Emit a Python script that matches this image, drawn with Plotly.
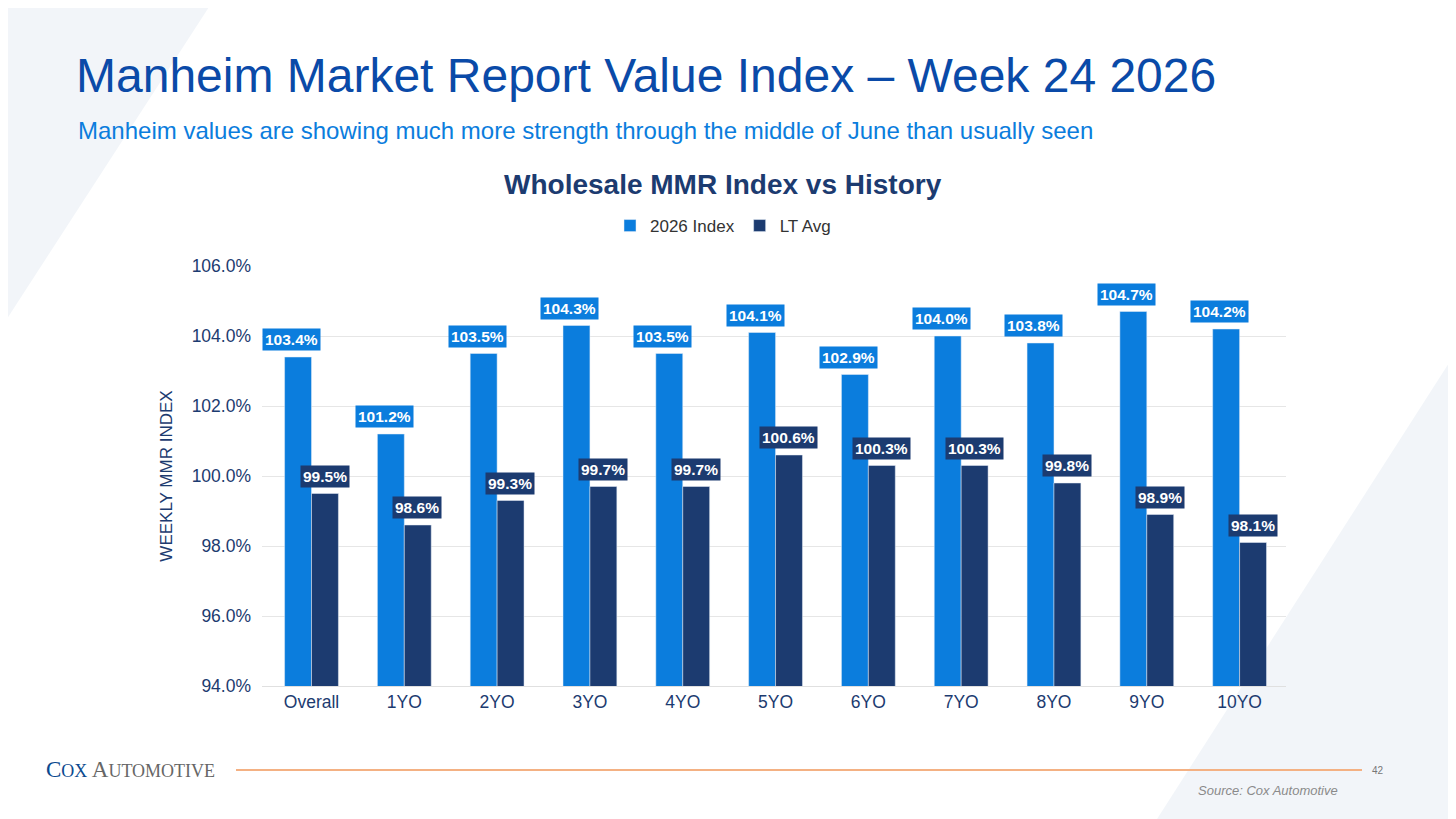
import plotly.graph_objects as go

categories = ['Overall', '1YO', '2YO', '3YO', '4YO', '5YO', '6YO', '7YO', '8YO', '9YO', '10YO']
index_2026 = [103.4, 101.2, 103.5, 104.3, 103.5, 104.1, 102.9, 104.0, 103.8, 104.7, 104.2]
lt_avg = [99.5, 98.6, 99.3, 99.7, 99.7, 100.6, 100.3, 100.3, 99.8, 98.9, 98.1]

BLUE = '#0b7ddd'
NAVY = '#1c3b70'


# screen pixel -> paper coords (plot area is 262..1286 x 266..686 on screen)
def px(x):
    return (x - 262) / 1024


def py(y):
    return (686 - y) / 420


fig = go.Figure()
fig.add_bar(x=categories, y=index_2026, name='2026 Index', marker_color=BLUE)
fig.add_bar(x=categories, y=lt_avg, name='LT Avg', marker_color=NAVY)

# value labels as boxed annotations
for c, v in zip(categories, index_2026):
    fig.add_annotation(x=c, y=v, text=f'<b>{v:.1f}%</b>', xshift=-20, yshift=6, yanchor='bottom',
                       showarrow=False, bgcolor=BLUE, font=dict(color='white', size=15.5, family='Arial'),
                       borderpad=2)
for c, v in zip(categories, lt_avg):
    fig.add_annotation(x=c, y=v, text=f'<b>{v:.1f}%</b>', xshift=13, yshift=6, yanchor='bottom',
                       showarrow=False, bgcolor=NAVY, font=dict(color='white', size=15.5, family='Arial'),
                       borderpad=2)

# slide text
fig.add_annotation(text='Manheim Market Report Value Index – Week 24 2026', xref='paper', yref='paper',
                   x=px(74), y=py(75), yanchor='middle', xanchor='left',
                   showarrow=False, font=dict(size=48, color='#0a4aa8', family='Arial'))
fig.add_annotation(text='Manheim values are showing much more strength through the middle of June than usually seen',
                   xref='paper', yref='paper', x=px(76), y=py(130), xanchor='left',
                   yanchor='middle', showarrow=False, font=dict(size=24, color='#0b7ddd', family='Arial'))
fig.add_annotation(text='<b>Wholesale MMR Index vs History</b>', xref='paper', yref='paper',
                   x=px(723), y=py(184), xanchor='center', yanchor='middle',
                   showarrow=False, font=dict(size=28, color='#1c3b70', family='Arial'))
fig.add_annotation(text='<span style="color:#0b4a8f">C<span style="font-size:18px">OX</span></span> '
                        'A<span style="font-size:18px">UTOMOTIVE</span>',
                   xref='paper', yref='paper', x=px(44), y=py(769), xanchor='left', yanchor='middle',
                   showarrow=False, font=dict(size=23, color='#666666', family='Liberation Serif'))
fig.add_annotation(text='42', xref='paper', yref='paper', x=px(1378), y=py(770),
                   xanchor='center', yanchor='middle', showarrow=False, font=dict(size=10, color='#777777'))
fig.add_annotation(text='<i>Source: Cox Automotive</i>', xref='paper', yref='paper', x=px(1340),
                   y=py(790), xanchor='right', yanchor='middle', showarrow=False,
                   font=dict(size=13, color='#8a8a8a', family='Arial'))

fig.add_shape(type='line', xref='paper', yref='paper', x0=px(236), x1=px(1362),
              y0=py(770), y1=py(770), line=dict(color='#f4b183', width=2))
# background decorative triangles
fig.add_shape(type='path', xref='paper', yref='paper', layer='below',
              path=f'M {px(-10)},{py(-10)} L {px(220)},{py(-10)} L {px(-10)},{py(345)} Z',
              fillcolor='#f2f5f9', line_width=0)
fig.add_shape(type='path', xref='paper', yref='paper', layer='below',
              path=f'M {px(1470)},{py(330)} L {px(1470)},{py(830)} L {px(1150)},{py(830)} Z',
              fillcolor='#f2f5f9', line_width=0)

fig.update_layout(
    width=1456, height=819, margin=dict(l=254, r=178, t=258, b=141),
    paper_bgcolor='white', plot_bgcolor='rgba(0,0,0,0)',
    barmode='group', bargap=0.42, bargroupgap=0,
    font=dict(family='Arial', color='#1c3b70'),
    legend=dict(orientation='h', x=px(723), xanchor='center', y=(819 - 218) / 819,
                yref='container', yanchor='middle', font=dict(size=17, color='#333333'),
                itemwidth=30, tracegroupgap=0),
)
fig.update_yaxes(range=[94, 106], dtick=2, ticksuffix='%', tickformat='.1f', gridcolor='#e6e6e6',
                 tickfont=dict(size=17.5, color='#1c3b70'), zeroline=False, ticklabelstandoff=10,
                 title=dict(text='WEEKLY MMR INDEX', font=dict(size=17, color='#1c3b70'), standoff=14))
fig.update_xaxes(tickfont=dict(size=17.5, color='#1c3b70'), showline=True, linecolor='#e0e0e0')

fig.write_html('out.html')
